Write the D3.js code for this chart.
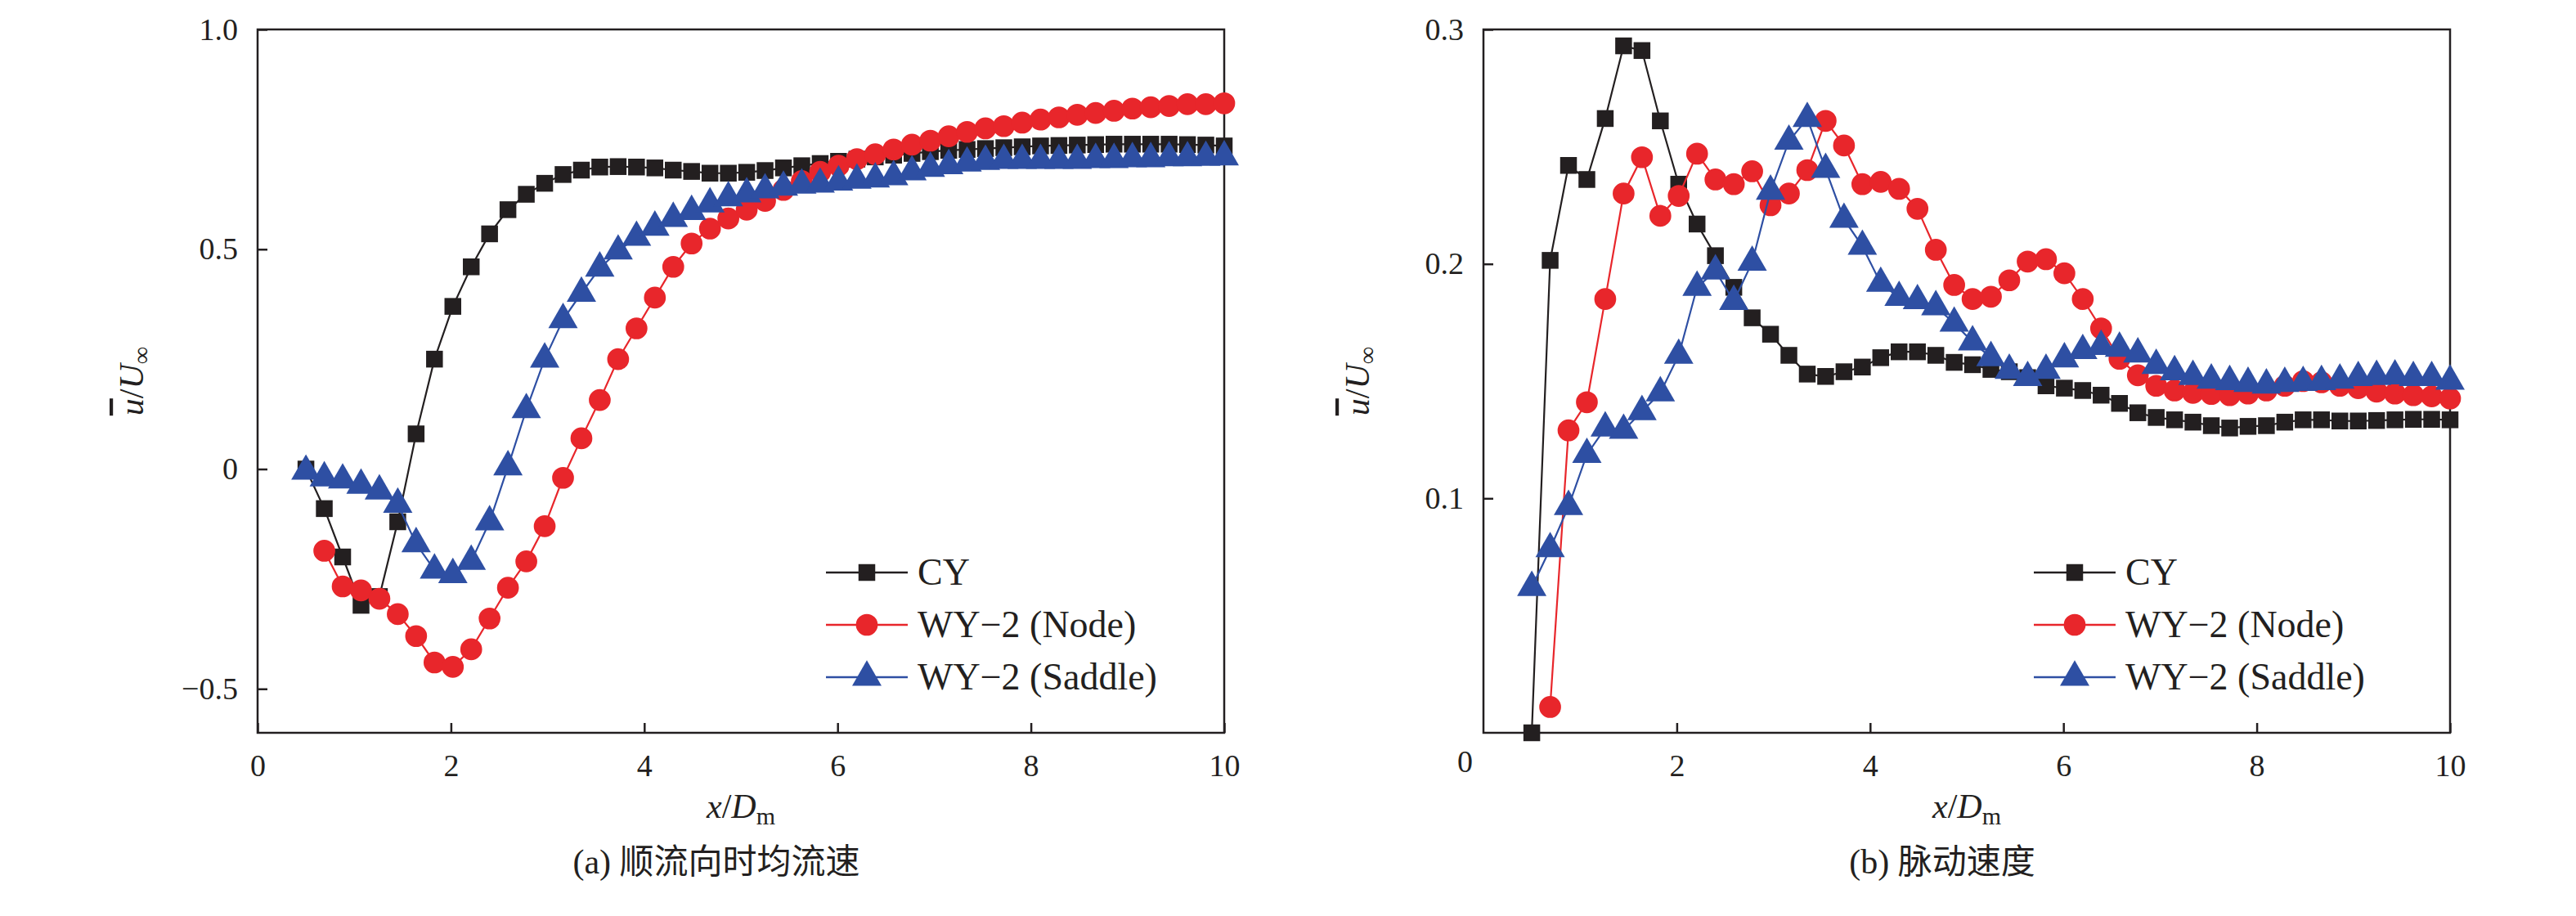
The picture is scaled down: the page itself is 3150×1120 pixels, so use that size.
<!DOCTYPE html>
<html lang="zh">
<head>
<meta charset="UTF-8">
<script src="https://d3js.org/d3.v7.min.js"></script>
<style>
  body { margin: 0; background: #fff; }
  svg text { font-family: "Liberation Serif", "Times New Roman", "DejaVu Serif", serif !important; fill: #231f20; }
  svg text.cjk { font-family: "Liberation Serif", "Noto Sans CJK SC", serif !important; }
  .line { fill: none; stroke-width: 2.2px; }
</style>
</head>
<body>
<svg width="3150" height="1120"></svg>
<script>
// x positions shared by the sampled points
const xs = [0.5, 0.69, 0.88, 1.07, 1.26, 1.45, 1.64, 1.83, 2.02, 2.21, 2.40, 2.59, 2.78, 2.97, 3.16, 3.35, 3.54,
  3.73, 3.92, 4.11, 4.30, 4.49, 4.68, 4.87, 5.06, 5.25, 5.44, 5.63, 5.82, 6.01, 6.20, 6.39, 6.58, 6.77, 6.96,
  7.15, 7.34, 7.53, 7.72, 7.91, 8.10, 8.29, 8.48, 8.67, 8.86, 9.05, 9.24, 9.43, 9.62, 9.81, 10.0];

const seriesNames = ["CY", "WY\u22122 (Node)", "WY\u22122 (Saddle)"];

// (a) mean streamwise velocity
const meanCY = [0, -0.09, -0.20, -0.31, -0.29, -0.12, 0.08, 0.25, 0.37, 0.46, 0.535, 0.59, 0.625, 0.65, 0.67, 0.68,
  0.687, 0.688, 0.687, 0.685, 0.68, 0.677, 0.673, 0.673, 0.675, 0.679, 0.685, 0.69, 0.695, 0.70, 0.705, 0.71,
  0.714, 0.718, 0.722, 0.725, 0.727, 0.729, 0.731, 0.733, 0.735, 0.736, 0.737, 0.738, 0.739, 0.739, 0.739,
  0.739, 0.738, 0.737, 0.735];
const meanNode = [null, -0.186, -0.267, -0.276, -0.295, -0.33, -0.38, -0.44, -0.45, -0.41, -0.34, -0.27, -0.21,
  -0.13, -0.02, 0.07, 0.157, 0.25, 0.32, 0.39, 0.46, 0.513, 0.547, 0.57, 0.59, 0.61, 0.635, 0.655, 0.676, 0.69,
  0.705, 0.716, 0.727, 0.738, 0.747, 0.757, 0.767, 0.775, 0.78, 0.788, 0.795, 0.80, 0.806, 0.81, 0.815, 0.82,
  0.823, 0.826, 0.83, 0.83, 0.832];
const meanSaddle = [-0.005, -0.02, -0.025, -0.037, -0.05, -0.08, -0.17, -0.23, -0.24, -0.21, -0.12, 0.005, 0.135,
  0.25, 0.34, 0.40, 0.457, 0.496, 0.527, 0.55, 0.57, 0.586, 0.603, 0.617, 0.626, 0.635, 0.641, 0.646, 0.648,
  0.653, 0.657, 0.66, 0.665, 0.676, 0.684, 0.69, 0.696, 0.70, 0.702, 0.702, 0.702, 0.702, 0.702, 0.704, 0.704,
  0.706, 0.706, 0.708, 0.708, 0.709, 0.71];

// (b) fluctuating velocity
const flucCY = [0.0, 0.2015, 0.242, 0.236, 0.262, 0.293, 0.291, 0.261, 0.234, 0.217, 0.2035, 0.19, 0.177, 0.17,
  0.161, 0.153, 0.152, 0.154, 0.156, 0.16, 0.1625, 0.1625, 0.161, 0.158, 0.157, 0.155, 0.154, 0.1515, 0.148,
  0.147, 0.146, 0.144, 0.1405, 0.1365, 0.1345, 0.1335, 0.1325, 0.131, 0.130, 0.1307, 0.131, 0.1325, 0.1335,
  0.1335, 0.133, 0.133, 0.1332, 0.1335, 0.1337, 0.1337, 0.1335];
const flucNode = [null, 0.011, 0.129, 0.141, 0.185, 0.23, 0.2455, 0.2205, 0.229, 0.247, 0.236, 0.234, 0.2395,
  0.225, 0.23, 0.24, 0.261, 0.2505, 0.234, 0.235, 0.232, 0.2235, 0.206, 0.191, 0.185, 0.186, 0.193, 0.201,
  0.202, 0.196, 0.185, 0.1725, 0.1595, 0.1525, 0.148, 0.146, 0.145, 0.1445, 0.144, 0.1447, 0.146, 0.148, 0.15,
  0.1495, 0.148, 0.147, 0.1455, 0.1447, 0.144, 0.1435, 0.1426];
const flucSaddle = [0.062, 0.0785, 0.0965, 0.1187, 0.130, 0.129, 0.137, 0.145, 0.161, 0.19, 0.197, 0.184, 0.2007,
  0.231, 0.2523, 0.262, 0.2403, 0.219, 0.2075, 0.1917, 0.1857, 0.1843, 0.1817, 0.1747, 0.1667, 0.16, 0.1546,
  0.1515, 0.1546, 0.1595, 0.163, 0.1648, 0.164, 0.1616, 0.1567, 0.154, 0.152, 0.1504, 0.1498, 0.149, 0.1483,
  0.149, 0.1494, 0.1498, 0.1504, 0.1515, 0.152, 0.1522, 0.1515, 0.1515, 0.150];

const xTicks = [0, 2, 4, 6, 8, 10];
const yTicksA = [-0.5, 0, 0.5, 1.0];
const yTicksB = [0.1, 0.2, 0.3];

const colors = ["#231f20", "#e8262b", "#2e4fa3"];
const svg = d3.select("svg");
const fmtA = d => d === 0 ? "0" : (d < 0 ? "\u2212" : "") + Math.abs(d).toFixed(1);

function panel(opt) {
  const left = opt.left, right = opt.left + 1182, top = 36, bottom = 896;
  const x = d3.scaleLinear().domain([0, 10]).range([left, right]);
  const y = d3.scaleLinear().domain(opt.yDomain).range([bottom, top]);
  const g = svg.append("g");

  g.append("rect").attr("x", left).attr("y", top).attr("width", right - left).attr("height", bottom - top)
    .attr("fill", "none").attr("stroke", "#231f20").attr("stroke-width", 2.5);

  const xAxis = g.append("g").attr("transform", `translate(0,${bottom})`)
    .call(d3.axisBottom(x).tickValues(opt.xTicks).tickSizeInner(-12).tickSizeOuter(0).tickPadding(26)
      .tickFormat(d3.format("d")));
  const yAxis = g.append("g").attr("transform", `translate(${left},0)`)
    .call(d3.axisLeft(y).tickValues(opt.yTicks).tickSizeInner(-12).tickSizeOuter(0).tickPadding(24)
      .tickFormat(opt.yFormat));
  [xAxis, yAxis].forEach(a => {
    a.attr("font-family", null);
    a.select(".domain").remove();
    a.selectAll(".tick line").attr("stroke", "#231f20").attr("stroke-width", 2.5);
    a.selectAll(".tick text").attr("font-size", 38).attr("fill", "#231f20");
  });
  if (opt.corner) {
    g.append("text").attr("x", left - 32).attr("y", bottom + 48).attr("font-size", 38).text("0");
  }

  const markers = [d3.symbolSquare, d3.symbolCircle, d3.symbolTriangle];
  const sizes = [420, 560, 560];
  opt.series.forEach((vals, si) => {
    const pts = xs.map((xv, i) => ({ x: xv, v: vals[i] })).filter(d => d.v !== null);
    g.append("path").datum(pts).attr("class", "line").attr("stroke", colors[si])
      .attr("d", d3.line().x(d => x(d.x)).y(d => y(d.v)));
    g.selectAll(null).data(pts).enter().append("path")
      .attr("transform", d => `translate(${x(d.x)},${y(d.v)})`)
      .attr("d", d3.symbol().type(markers[si]).size(sizes[si]))
      .attr("fill", colors[si]);
  });

  // legend
  const lg = g.append("g").attr("transform", `translate(${opt.legendX},700)`);
  seriesNames.forEach((name, si) => {
    const yy = si * 64;
    lg.append("line").attr("x1", 0).attr("x2", 100).attr("y1", yy).attr("y2", yy)
      .attr("stroke", colors[si]).attr("stroke-width", 2.5);
    lg.append("path").attr("transform", `translate(50,${yy})`)
      .attr("d", d3.symbol().type(markers[si]).size(sizes[si])).attr("fill", colors[si]);
    lg.append("text").attr("x", 112).attr("y", yy + 15).attr("font-size", 46).text(name);
  });

  // y axis label
  const yl = g.append("text").attr("transform", `translate(${opt.left - 140},466) rotate(-90)`)
    .attr("text-anchor", "middle").attr("font-size", 42);
  yl.append("tspan").attr("font-style", "italic").style("text-decoration", "overline").text("u");
  yl.append("tspan").text("/");
  yl.append("tspan").attr("font-style", "italic").text("U");
  yl.append("tspan").attr("font-size", 30).attr("dy", 8).text("\u221e");

  // x axis label
  const xl = g.append("text").attr("x", (left + right) / 2).attr("y", 1000)
    .attr("text-anchor", "middle").attr("font-size", 42);
  xl.append("tspan").attr("font-style", "italic").text("x");
  xl.append("tspan").text("/");
  xl.append("tspan").attr("font-style", "italic").text("D");
  xl.append("tspan").attr("font-size", 30).attr("dy", 8).text("m");

  g.append("text").attr("class", "cjk").attr("x", (left + right) / 2 - 30).attr("y", 1068)
    .attr("text-anchor", "middle").attr("font-size", 42).text(opt.caption);
}

panel({ left: 315, yDomain: [-0.6, 1.0], xTicks: xTicks, yTicks: yTicksA, yFormat: fmtA,
  series: [meanCY, meanNode, meanSaddle], legendX: 1010, caption: "(a) 顺流向时均流速", corner: false });

panel({ left: 1814, yDomain: [0, 0.3], xTicks: [2, 4, 6, 8, 10], yTicks: yTicksB, yFormat: d3.format(".1f"),
  series: [flucCY, flucNode, flucSaddle], legendX: 2487, caption: "(b) 脉动速度", corner: true });
</script>
</body>
</html>
